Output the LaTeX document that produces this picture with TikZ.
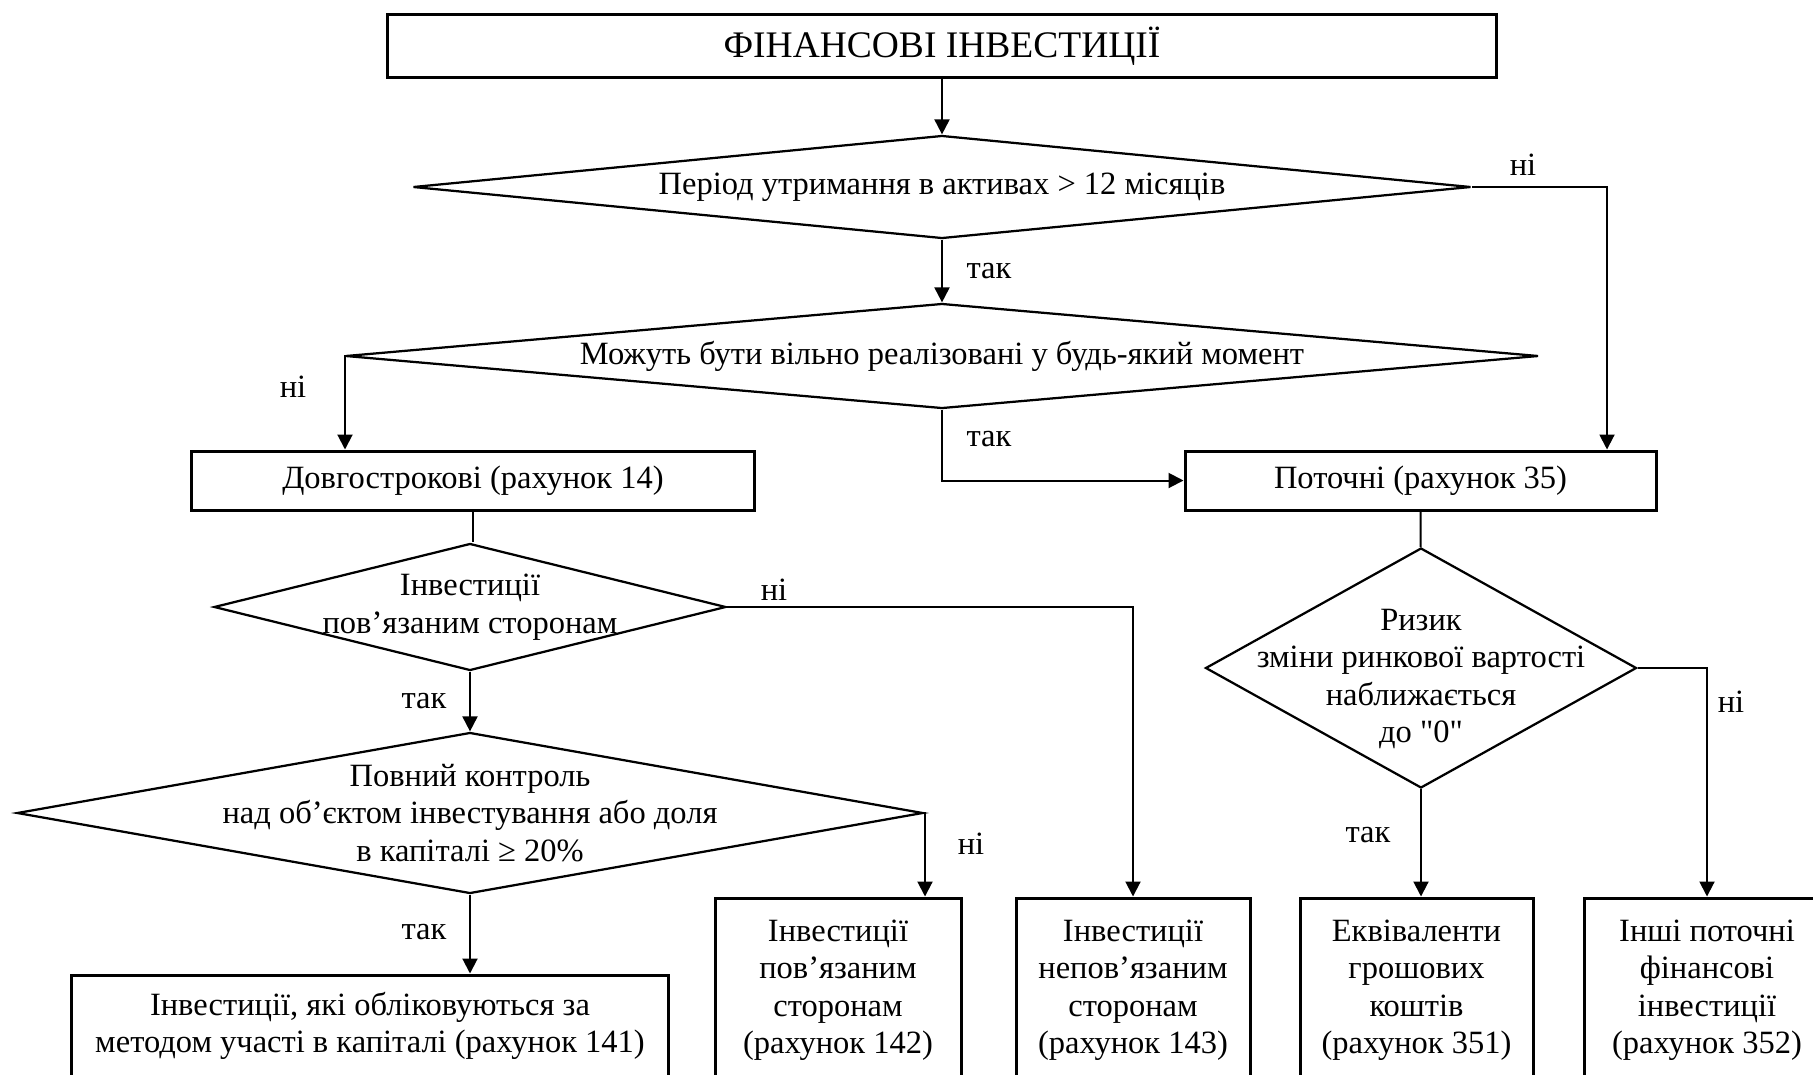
\documentclass[tikz,border=0pt]{standalone}
\usepackage{fontspec}
\setmainfont{Liberation Serif}
\usepackage{tikz}
\usetikzlibrary{arrows.meta,shapes.geometric}

\begin{document}
\begin{tikzpicture}[x=0.4pt,y=-0.4pt,
        every node/.style={font=\fontsize{13}{15}\selectfont},
        box/.style={rectangle,draw,line width=1.2pt,align=center,inner sep=2pt},
        decision/.style={diamond,draw,line width=0.9pt,align=center,inner sep=-14pt},
        line/.style={line width=0.8pt},
        arr/.style={line width=0.8pt,-{Triangle[length=6pt,width=6pt]}}]
      \clip (0,0) rectangle (1813,1074);
      % top level
      \node[box,minimum width=443.6pt,minimum height=25.2pt,font=\fontsize{15}{17}\selectfont]
           (fin) at (942,46) {ФІНАНСОВІ ІНВЕСТИЦІЇ};
      \node[decision,aspect=10.27,minimum width=423.2pt,minimum height=41.2pt]
           (term) at (942,187) {Період утримання в активах > 12 місяців};
      \node[decision,aspect=11.36,minimum width=477.2pt,minimum height=42pt]
           (free) at (942,356) {Можуть бути вільно реалізовані у будь-який момент};
      \node[box,minimum width=224.8pt,minimum height=23.6pt] (long) at (473,480.5) {Довгострокові (рахунок 14)};
      \node[box,minimum width=188.4pt,minimum height=23.6pt] (cur) at (1420.5,480.5) {Поточні (рахунок 35)};
      % long-term branch
      \node[decision,aspect=4.03,minimum width=204.8pt,minimum height=50.8pt]
           (rel) at (470,607) {Інвестиції\\пов’язаним сторонам};
      \node[decision,aspect=5.63,minimum width=362.4pt,minimum height=64.4pt]
           (ctrl) at (470,813) {Повний контроль\\над об’єктом інвестування або доля\\в капіталі ≥ 20\%};
      \node[box,minimum width=238.4pt,minimum height=40.8pt] (b141) at (370,1026)
           {Інвестиції, які обліковуються за\\методом участі в капіталі (рахунок 141)};
      \node[box,minimum width=98.4pt,minimum height=73.6pt] (b142) at (838,990)
           {Інвестиції\\пов’язаним\\сторонам\\(рахунок 142)};
      \node[box,minimum width=93.6pt,minimum height=73.6pt] (b143) at (1133,990)
           {Інвестиції\\непов’язаним\\сторонам\\(рахунок 143)};
      % current branch
      \node[decision,aspect=1.796,minimum width=172.4pt,minimum height=96pt]
           (risk) at (1421,668) {\mbox{}\\[2.4pt]Ризик\\зміни ринкової вартості\\наближається\\до \textquotedbl0\textquotedbl};
      \node[box,minimum width=93.2pt,minimum height=73.6pt] (b351) at (1416.5,990)
           {Еквіваленти\\грошових\\коштів\\(рахунок 351)};
      \node[box,minimum width=98.4pt,minimum height=73.6pt] (b352) at (1707,990)
           {Інші поточні\\фінансові\\інвестиції\\(рахунок 352)};
      % connectors
      \draw[arr](fin)--(term);
      \draw[arr](term)--(free);
      \draw[arr](term.east)-|([xshift=74.6pt]cur.north);
      \draw[arr](free.west)-|([xshift=-51.2pt]long.north);
      \draw[arr](free.south)|-(cur.west);
      \draw[line](long.south)--(long.south|-rel.north);
      \draw[arr](rel.south)--(rel.south|-ctrl.north);
      \draw[arr](rel.east)-|(b143.north);
      \draw[arr](ctrl.east)-|([xshift=34.8pt]b142.north);
      \draw[arr](ctrl.south)--(ctrl.south|-b141.north);
      \draw[line](cur)--(risk);
      \draw[arr](risk.south)--(risk.south|-b351.north);
      \draw[arr](risk.east)-|(b352.north);
      % yes / no labels
      \node (y1) at (989,271) {так};
      \node (n1) at (1523,165) {ні};
      \node (y2) at (989,439) {так};
      \node (n2) at (293,387) {ні};
      \node (n3) at (774,590) {ні};
      \node (y3) at (424,701) {так};
      \node (n4) at (971,844) {ні};
      \node (y4) at (424,932) {так};
      \node (y5) at (1368,835) {так};
      \node (n5) at (1731,702) {ні};
    \end{tikzpicture}
\end{document}
